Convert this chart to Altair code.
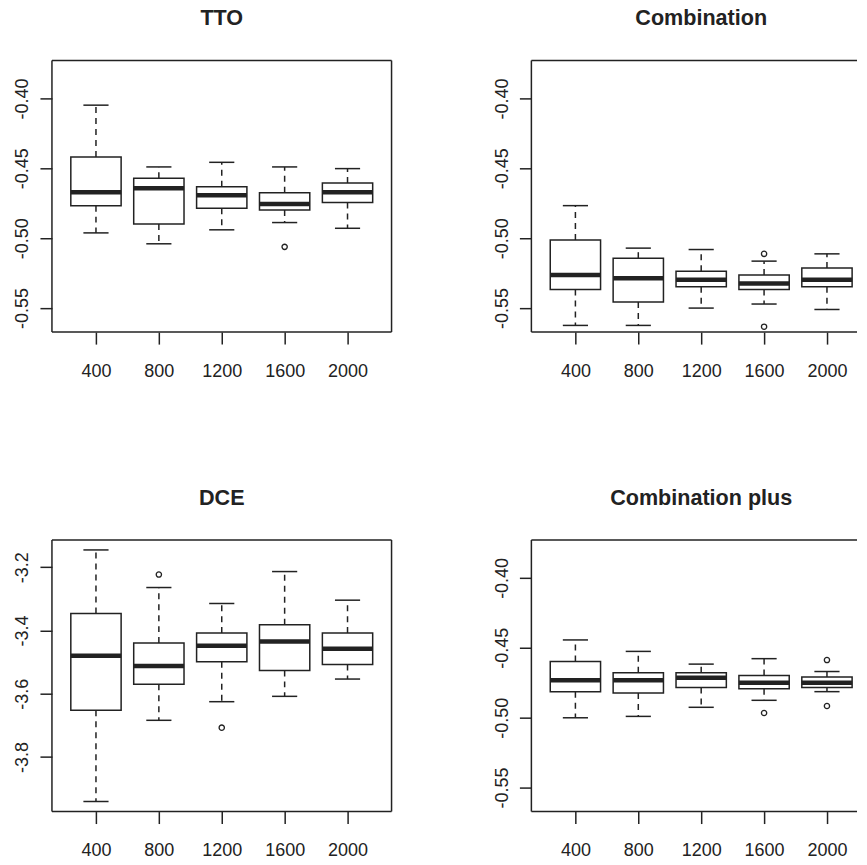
import altair as alt
import pandas as pd

sizes = [400, 800, 1200, 1600, 2000]

# TTO
tto_lo  = [-0.4962, -0.5040, -0.4940, -0.4888, -0.4929]
tto_q1  = [-0.4767, -0.4898, -0.4786, -0.4798, -0.4745]
tto_med = [-0.4671, -0.4643, -0.4693, -0.4755, -0.4671]
tto_q3  = [-0.4419, -0.4571, -0.4631, -0.4674, -0.4605]
tto_hi  = [-0.4048, -0.4490, -0.4457, -0.4490, -0.4502]
tto_out_x = [1600]
tto_out_y = [-0.5062]

# Combination
comb_lo  = [-0.5624, -0.5624, -0.5500, -0.5471, -0.5510]
comb_q1  = [-0.5367, -0.5457, -0.5348, -0.5367, -0.5348]
comb_med = [-0.5264, -0.5286, -0.5298, -0.5324, -0.5298]
comb_q3  = [-0.5012, -0.5143, -0.5236, -0.5264, -0.5214]
comb_hi  = [-0.4767, -0.5071, -0.5081, -0.5164, -0.5112]
comb_out_x = [1600, 1600]
comb_out_y = [-0.5112, -0.5633]

# DCE
dce_lo  = [-3.9410, -3.6842, -3.6253, -3.6084, -3.5537]
dce_q1  = [-3.6526, -3.5705, -3.4989, -3.5263, -3.5074]
dce_med = [-3.4800, -3.5126, -3.4484, -3.4347, -3.4579]
dce_q3  = [-3.3463, -3.4400, -3.4084, -3.3821, -3.4084]
dce_hi  = [-3.1453, -3.2642, -3.3147, -3.2137, -3.3042]
dce_out_x = [800, 1200]
dce_out_y = [-3.2232, -3.7074]

# Combination plus
cp_lo  = [-0.5001, -0.4991, -0.4926, -0.4876, -0.4814]
cp_q1  = [-0.4814, -0.4823, -0.4785, -0.4794, -0.4785]
cp_med = [-0.4732, -0.4732, -0.4715, -0.4751, -0.4751]
cp_q3  = [-0.4598, -0.4679, -0.4679, -0.4698, -0.4710]
cp_hi  = [-0.4444, -0.4526, -0.4617, -0.4578, -0.4670]
cp_out_x = [1600, 2000, 2000]
cp_out_y = [-0.4967, -0.4588, -0.4917]

ticks_small = [-0.40, -0.45, -0.50, -0.55]
ticks_dce = [-3.2, -3.4, -3.6, -3.8]
ylim_small = [-0.56, -0.38]

FONT = "Liberation Sans"
INK = "#222222"
LW = 1.5
W_FULL, H = 340, 272
W_CUT = 326
X_LO, X_HI = 120, 2280


def ext(lo, hi):
    d = (hi - lo) * 0.04
    return [lo - d, hi + d]


def panel(title, lo, q1, med, q3, hi, ox, oy, ylim, yticks, fmt, cut=False):
    df = pd.DataFrame({"size": sizes, "lo": lo, "q1": q1, "med": med, "q3": q3, "hi": hi})
    df["bl"] = df["size"] - 160
    df["br"] = df["size"] + 160
    df["sl"] = df["size"] - 80
    df["sr"] = df["size"] + 80
    odf = pd.DataFrame({"size": ox, "v": oy})

    w = W_CUT if cut else W_FULL
    x_hi = X_LO + (X_HI - X_LO) * w / W_FULL
    xs = alt.Scale(domain=[X_LO, x_hi], nice=False, zero=False)
    ys = alt.Scale(domain=ext(*ylim), nice=False, zero=False)
    xax = alt.Axis(values=sizes, title=None, grid=False, domain=False, tickSize=12,
                   tickWidth=LW, tickColor=INK, labelFont=FONT, labelFontSize=18,
                   labelColor=INK, labelBaseline="alphabetic", labelPadding=32,
                   labelFlush=False, labelExpr="format(datum.value, 'd')")
    yax = alt.Axis(values=yticks, title=None, grid=False, domain=False,
                   tickSize=12, tickWidth=LW, tickColor=INK, labelFont=FONT,
                   labelFontSize=18, labelColor=INK, labelAngle=270,
                   labelAlign="center", labelBaseline="alphabetic", labelPadding=12,
                   labelExpr="'-' + format(abs(datum.value), '%s')" % fmt)

    base = alt.Chart(df)
    whisk_up = base.mark_rule(color=INK, strokeWidth=LW, strokeDash=[6, 5]).encode(
        x=alt.X("size:Q", scale=xs, axis=xax),
        y=alt.Y("q3:Q", scale=ys, axis=yax),
        y2="hi:Q",
    )
    whisk_dn = base.mark_rule(color=INK, strokeWidth=LW, strokeDash=[6, 5]).encode(
        x="size:Q", y="q1:Q", y2="lo:Q")
    staple_hi = base.mark_rule(color=INK, strokeWidth=LW).encode(
        x="sl:Q", x2="sr:Q", y="hi:Q")
    staple_lo = base.mark_rule(color=INK, strokeWidth=LW).encode(
        x="sl:Q", x2="sr:Q", y="lo:Q")
    box = base.mark_rect(fill="white", stroke=INK, strokeWidth=LW).encode(
        x="bl:Q", x2="br:Q", y="q1:Q", y2="q3:Q")
    median = base.mark_rule(color=INK, strokeWidth=4.5).encode(
        x="bl:Q", x2="br:Q", y="med:Q")
    outl = alt.Chart(odf).mark_point(shape="circle", filled=False, color=INK,
                                     strokeWidth=1.3, size=28, opacity=1).encode(
        x="size:Q", y="v:Q")

    tdf = pd.DataFrame({"t": [title]})
    ttl = alt.Chart(tdf).mark_text(font=FONT, fontSize=21.6, fontWeight="bold", color=INK,
                                   align="center", baseline="alphabetic").encode(
        text="t:N", x=alt.value(W_FULL / 2), y=alt.value(-35.3))

    fr = alt.Chart(tdf)
    frame_top = fr.mark_rule(color=INK, strokeWidth=LW).encode(
        x=alt.value(0), x2=alt.value(w), y=alt.value(0))
    frame_bot = fr.mark_rule(color=INK, strokeWidth=LW).encode(
        x=alt.value(0), x2=alt.value(w), y=alt.value(H))
    frame_left = fr.mark_rule(color=INK, strokeWidth=LW).encode(
        x=alt.value(0), y=alt.value(0), y2=alt.value(H))
    frame_right = fr.mark_rule(color=INK, strokeWidth=LW).encode(
        x=alt.value(w), y=alt.value(0), y2=alt.value(H))

    layers = [whisk_up, whisk_dn, staple_hi, staple_lo, box, median, outl, ttl,
              frame_top, frame_bot, frame_left]
    if not cut:
        layers.append(frame_right)
    return alt.layer(*layers).properties(
        width=w, height=H, view=alt.ViewBackground(stroke="transparent"))


p1 = panel("TTO", tto_lo, tto_q1, tto_med, tto_q3, tto_hi, tto_out_x, tto_out_y,
           ylim_small, ticks_small, ".2f")
p2 = panel("Combination", comb_lo, comb_q1, comb_med, comb_q3, comb_hi, comb_out_x, comb_out_y,
           ylim_small, ticks_small, ".2f", cut=True)
p3 = panel("DCE", dce_lo, dce_q1, dce_med, dce_q3, dce_hi, dce_out_x, dce_out_y,
           [min(dce_lo), max(dce_hi)], ticks_dce, ".1f")
p4 = panel("Combination plus", cp_lo, cp_q1, cp_med, cp_q3, cp_hi, cp_out_x, cp_out_y,
           ylim_small, ticks_small, ".2f", cut=True)

chart = alt.concat(p1, p2, p3, p4, columns=2, spacing={"row": 208, "column": 140},
                   bounds="flush").properties(
    padding={"left": 5.0, "top": -1, "right": 0, "bottom": 0},
    background="white",
)

chart.save("out.html", embed_options={"renderer": "svg", "actions": False})
